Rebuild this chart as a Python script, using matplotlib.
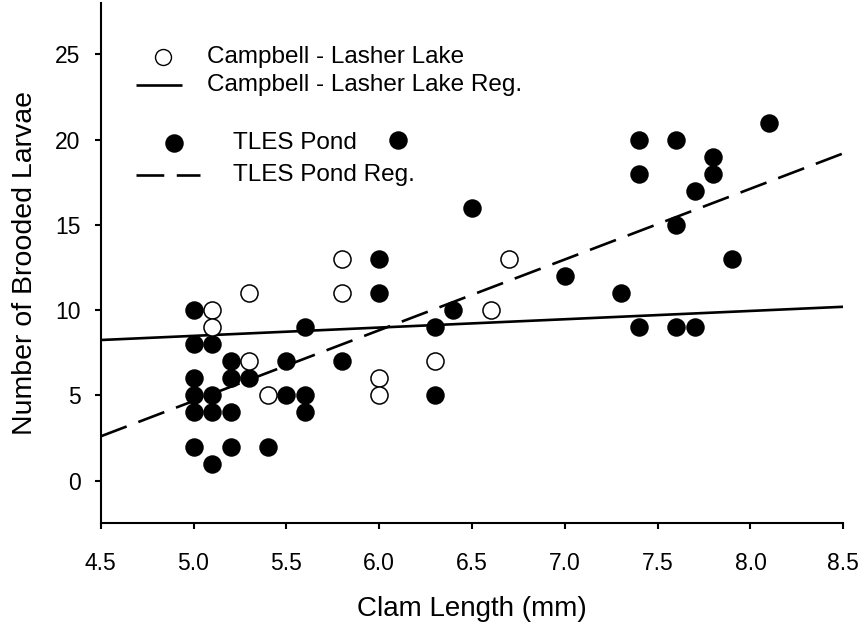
import matplotlib
matplotlib.use("Agg")
import matplotlib.pyplot as plt
import numpy as np

plt.rcParams['font.family'] = ['Liberation Sans', 'DejaVu Sans']
plt.rcParams['lines.scale_dashes'] = False

# Campbell - Lasher Lake (open circles)
cl_x = [5.1, 5.1, 5.3, 5.8, 5.3, 5.4, 5.8, 6.7, 6.6, 6.3, 6.0, 6.0]
cl_y = [10, 9, 11, 11, 7, 5, 13, 13, 10, 7, 6, 5]

# TLES Pond (filled circles)
tp_x = [5.0, 5.6, 5.0, 5.1, 5.2, 5.5, 5.8, 5.0, 5.2, 5.3, 5.0, 5.1, 5.5, 5.6,
        5.0, 5.1, 5.2, 5.6, 5.0, 5.2, 5.4, 5.1,
        6.1, 6.5, 6.0, 6.0, 6.4, 6.3, 6.3,
        8.1, 7.4, 7.6, 7.8, 7.4, 7.8, 7.7, 7.6, 7.9, 7.0, 7.3, 7.4, 7.6, 7.7]
tp_y = [10, 9, 8, 8, 7, 7, 7, 6, 6, 6, 5, 5, 5, 5,
        4, 4, 4, 4, 2, 2, 2, 1,
        20, 16, 13, 11, 10, 9, 5,
        21, 20, 20, 19, 18, 18, 17, 15, 13, 12, 11, 9, 9, 9]

# Regression lines (endpoints)
reg_x = [4.5, 8.5]
cl_reg_y = [8.25, 10.2]
tp_reg_y = [2.6, 19.2]

x_ticks = [4.5, 5.0, 5.5, 6.0, 6.5, 7.0, 7.5, 8.0, 8.5]
y_ticks = [0, 5, 10, 15, 20, 25]

fig = plt.figure(figsize=(8.61, 6.24), dpi=100)
ax = fig.add_axes([100.7/861, 1-523.3/624, 742.6/861, 520/624])

lw = 1.9
ax.plot(reg_x, cl_reg_y, color='black', lw=lw, solid_capstyle='butt', zorder=2)
ax.plot(reg_x, tp_reg_y, color='black', lw=lw, dashes=(20, 9), zorder=2)

ms = 12.3
ax.plot(tp_x, tp_y, 'o', ms=ms, mfc='black', mec='black', mew=1, ls='none', zorder=3)
ax.plot(cl_x, cl_y, 'o', ms=ms, mfc='white', mec='black', mew=1.1, ls='none', zorder=4)

ax.set_xlim(4.5, 8.5)
ax.set_ylim(-2.5, 28)
ax.set_xticks(x_ticks)
ax.set_xticklabels([f"{v:.1f}" for v in x_ticks])
ax.set_yticks(y_ticks)
ax.spines['top'].set_visible(False)
ax.spines['right'].set_visible(False)
for s in ['left', 'bottom']:
    ax.spines[s].set_linewidth(1.5)
ax.tick_params(axis='x', direction='out', length=4.5, width=1.5, labelsize=16.5, pad=16)
ax.tick_params(axis='y', direction='out', length=4.5, width=1.5, labelsize=16.5, pad=10)

ax.set_xlabel('Clam Length (mm)', fontsize=20, labelpad=15)
ax.set_ylabel('Number of Brooded Larvae', fontsize=20.5, labelpad=12)

# Legend (drawn manually in axes coordinates)
T = ax.transAxes
fs = 17.5
ax.plot([0.0839], [0.8973], 'o', ms=11.5, mfc='white', mec='black', mew=1.0, transform=T, clip_on=False)
ax.text(0.1431, 0.8973, 'Campbell - Lasher Lake', transform=T, fontsize=fs, va='center', ha='left')
ax.plot([0.0475, 0.1095], [0.8429, 0.8429], color='black', lw=lw, transform=T, solid_capstyle='butt')
ax.text(0.1431, 0.8429, 'Campbell - Lasher Lake Reg.', transform=T, fontsize=fs, va='center', ha='left')
ax.plot([0.0987], [0.7313], 'o', ms=12.3, mfc='black', mec='black', transform=T)
ax.text(0.1782, 0.7313, 'TLES Pond', transform=T, fontsize=fs, va='center', ha='left')
ax.plot([0.0475, 0.1337], [0.6698, 0.6698], color='black', lw=lw, dashes=(20, 9), transform=T)
ax.text(0.1782, 0.6698, 'TLES Pond Reg.', transform=T, fontsize=fs, va='center', ha='left')

fig.savefig('out.png', dpi=100)
